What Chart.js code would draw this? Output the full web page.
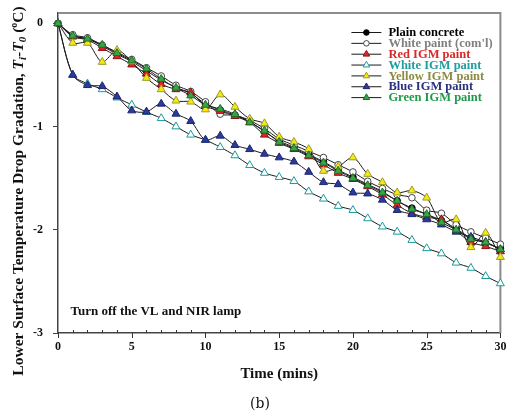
<!DOCTYPE html>
<html>
<head>
<meta charset="utf-8">
<script src="https://cdn.jsdelivr.net/npm/chart.js@4.4.1/dist/chart.umd.min.js"></script>
<style>
  html, body { margin: 0; padding: 0; background: #fff; }
</style>
</head>
<body>
<canvas id="chart" width="506" height="415"></canvas>
<script>
const minutes = [0, 1, 2, 3, 4, 5, 6, 7, 8, 9, 10, 11, 12, 13, 14, 15, 16, 17, 18, 19, 20, 21, 22, 23, 24, 25, 26, 27, 28, 29, 30];

const plainConcrete = [0, -0.12, -0.15, -0.22, -0.30, -0.37, -0.46, -0.55, -0.62, -0.68, -0.78, -0.84, -0.89, -0.95, -1.05, -1.14, -1.20, -1.27, -1.34, -1.42, -1.49, -1.56, -1.63, -1.72, -1.79, -1.85, -1.91, -1.99, -2.08, -2.13, -2.18];
const whitePaint = [0, -0.11, -0.14, -0.21, -0.28, -0.35, -0.43, -0.51, -0.60, -0.66, -0.76, -0.88, -0.89, -0.94, -1.02, -1.12, -1.18, -1.24, -1.30, -1.37, -1.44, -1.53, -1.60, -1.66, -1.69, -1.81, -1.84, -1.95, -2.02, -2.08, -2.14];
const redIGM = [0, -0.13, -0.16, -0.24, -0.32, -0.40, -0.49, -0.59, -0.64, -0.67, -0.80, -0.85, -0.90, -0.96, -1.08, -1.16, -1.22, -1.29, -1.37, -1.45, -1.51, -1.58, -1.66, -1.76, -1.84, -1.88, -1.90, -2.01, -2.12, -2.16, -2.21];
const whiteIGM = [0, -0.50, -0.585, -0.64, -0.72, -0.79, -0.86, -0.92, -1.00, -1.08, -1.13, -1.20, -1.28, -1.375, -1.45, -1.49, -1.53, -1.63, -1.70, -1.77, -1.81, -1.89, -1.97, -2.02, -2.10, -2.18, -2.23, -2.32, -2.37, -2.45, -2.52];
const yellowIGM = [0, -0.19, -0.19, -0.375, -0.26, -0.37, -0.53, -0.64, -0.75, -0.76, -0.835, -0.69, -0.81, -0.925, -0.97, -1.10, -1.15, -1.22, -1.43, -1.39, -1.30, -1.46, -1.54, -1.64, -1.62, -1.69, -1.93, -1.90, -2.17, -2.03, -2.265];
const blueIGM = [0, -0.50, -0.60, -0.61, -0.71, -0.845, -0.857, -0.78, -0.877, -0.948, -1.13, -1.09, -1.18, -1.22, -1.265, -1.30, -1.34, -1.44, -1.54, -1.56, -1.64, -1.65, -1.71, -1.81, -1.85, -1.90, -1.95, -2.02, -2.07, -2.12, -2.19];
const greenIGM = [0, -0.12, -0.15, -0.21, -0.29, -0.36, -0.44, -0.54, -0.625, -0.70, -0.79, -0.83, -0.88, -0.96, -1.04, -1.15, -1.21, -1.28, -1.35, -1.43, -1.50, -1.57, -1.64, -1.72, -1.80, -1.85, -1.93, -2.00, -2.09, -2.12, -2.19];

const xTicks = minutes;
const xLabelEvery = 5;
const yTicks = [-3, -2, -1, 0];

const SERIF = "'Liberation Serif', 'Times New Roman', serif";

const series = [
    { label: 'Plain concrete',      data: plainConcrete, shape: 'circle',   fill: '#000000', edge: '#000000', text: '#000000' },
    { label: "White paint (com'l)", data: whitePaint,    shape: 'circle',   fill: '#ffffff', edge: '#444444', text: '#808080' },
    { label: 'Red IGM paint',       data: redIGM,        shape: 'triangle', fill: '#e3222a', edge: '#8a1414', text: '#d82a2a' },
    { label: 'White IGM paint',     data: whiteIGM,      shape: 'triangle', fill: '#ffffff', edge: '#1a9a9a', text: '#1f9e9e' },
    { label: 'Yellow IGM paint',    data: yellowIGM,     shape: 'triangle', fill: '#f4ea12', edge: '#9a9a30', text: '#8c8c44' },
    { label: 'Blue IGM paint',      data: blueIGM,       shape: 'triangle', fill: '#2b3a9c', edge: '#1c2670', text: '#2a2f80' },
    { label: 'Green IGM paint',     data: greenIGM,      shape: 'triangle', fill: '#35a845', edge: '#1f6e2a', text: '#1e9a4a' }
];

// frame on top and right; minor ticks point in, major ticks point out
const frame = {
    id: 'frame',
    beforeDatasetsDraw(chart) {
        const { ctx, chartArea: a, scales: { x } } = chart;
        ctx.save();
        ctx.strokeStyle = '#8c8c8c';
        ctx.lineWidth = 2;
        ctx.beginPath();
        ctx.moveTo(a.left, a.top);
        ctx.lineTo(a.right, a.top);
        ctx.lineTo(a.right, a.bottom);
        ctx.stroke();

        ctx.strokeStyle = '#333';
        ctx.lineWidth = 1;
        xTicks.forEach(v => {
            const px = Math.round(x.getPixelForValue(v)) + 0.5;
            const major = v % xLabelEvery === 0;
            ctx.beginPath();
            ctx.moveTo(px, a.bottom);
            ctx.lineTo(px, major ? a.bottom + 5 : a.bottom - 3);
            ctx.stroke();
        });
        ctx.restore();
    }
};

// legend, y-axis title, note and panel label
const texts = {
    id: 'texts',
    afterDraw(chart) {
        const { ctx, chartArea: a, scales: { x, y } } = chart;
        ctx.save();

        // legend
        const rowTop = a.top + 19.5;
        const rowStep = 10.85;
        chart.data.datasets.forEach((ds, i) => {
            const s = series[i];
            const ry = rowTop + i * rowStep;
            const lx = a.right - 149;
            ctx.strokeStyle = '#1a1a1a';
            ctx.lineWidth = 1;
            ctx.beginPath();
            ctx.moveTo(lx, ry);
            ctx.lineTo(lx + 30, ry);
            ctx.stroke();
            ctx.fillStyle = s.fill;
            ctx.strokeStyle = s.edge;
            Chart.helpers.drawPoint(ctx, { pointStyle: s.shape, radius: s.shape === 'circle' ? 2.8 : 3.8, borderWidth: 1 }, lx + 15, ry);
            ctx.fillStyle = s.text;
            ctx.font = 'bold 12.5px ' + SERIF;
            ctx.textAlign = 'left';
            ctx.textBaseline = 'middle';
            ctx.fillText(ds.label, lx + 37, ry + 0.5);
        });

        // note
        ctx.fillStyle = '#111';
        ctx.font = 'bold 13px ' + SERIF;
        ctx.textAlign = 'left';
        ctx.textBaseline = 'alphabetic';
        ctx.fillText('Turn off the VL and NIR lamp', x.getPixelForValue(0.85), y.getPixelForValue(-2.83));

        // panel label
        ctx.font = "14px 'DejaVu Serif', serif";
        ctx.textAlign = 'center';
        ctx.textBaseline = 'middle';
        ctx.fillText('(b)', 260, 404);

        // y-axis title with subscripts
        const parts = [
            { t: 'Lower Surface Temperature Drop Gradation, ', f: 'bold 15.5px ' },
            { t: 'T', f: 'italic bold 15.5px ' },
            { t: 'i', f: 'italic bold 11px ', dy: 3 },
            { t: '-', f: 'bold 15.5px ' },
            { t: 'T', f: 'italic bold 15.5px ' },
            { t: '0', f: 'italic bold 11px ', dy: 3 },
            { t: ' (', f: 'bold 15.5px ' },
            { t: 'o', f: 'bold 10px ', dy: -6 },
            { t: 'C)', f: 'bold 15.5px ' }
        ];
        let total = 0;
        parts.forEach(p => { ctx.font = p.f + SERIF; p.w = ctx.measureText(p.t).width; total += p.w; });
        ctx.translate(18, 191);
        ctx.rotate(-Math.PI / 2);
        ctx.textAlign = 'left';
        ctx.textBaseline = 'alphabetic';
        ctx.fillStyle = '#111';
        let px = -total / 2;
        parts.forEach(p => {
            ctx.font = p.f + SERIF;
            ctx.fillText(p.t, px, 5 + (p.dy || 0));
            px += p.w;
        });
        ctx.restore();
    }
};

new Chart(document.getElementById('chart'), {
    type: 'line',
    data: {
        datasets: series.map((s, i) => ({
            label: s.label,
            data: s.data.map((v, k) => ({ x: minutes[k], y: v })),
            borderColor: '#1a1a1a',
            borderWidth: 1,
            tension: 0.3,
            pointStyle: s.shape,
            pointRadius: s.shape === 'circle' ? 3.3 : 4.6,
            pointBackgroundColor: s.fill,
            pointBorderColor: s.edge,
            pointBorderWidth: 1,
            clip: false,
            order: series.length - i
        }))
    },
    options: {
        responsive: false,
        animation: false,
        devicePixelRatio: 1,
        layout: { padding: { left: 0, right: 4, top: 13, bottom: 30 } },
        plugins: {
            legend: { display: false },
            tooltip: { enabled: false }
        },
        scales: {
            x: {
                type: 'linear',
                min: 0,
                max: 30,
                afterBuildTicks: scale => { scale.ticks = xTicks.map(v => ({ value: v })); },
                afterFit: scale => { scale.height = 52; scale.paddingLeft = 0; scale.paddingRight = 0; },
                grid: { display: true, drawOnChartArea: false, drawTicks: false },
                border: { display: true, color: '#444', width: 1.5 },
                ticks: {
                    autoSkip: false,
                    maxRotation: 0,
                    padding: 7,
                    color: '#111',
                    font: { family: SERIF, size: 12, weight: 'bold' },
                    callback: v => (v % xLabelEvery === 0 ? String(v) : '')
                },
                title: {
                    display: true,
                    text: 'Time (mins)',
                    color: '#111',
                    font: { family: SERIF, size: 15, weight: 'bold' },
                    padding: { top: 4, bottom: 2 }
                }
            },
            y: {
                min: -3,
                max: 0.1,
                afterBuildTicks: scale => { scale.ticks = yTicks.map(v => ({ value: v })); },
                afterFit: scale => { scale.width = 58; scale.paddingTop = 0; scale.paddingBottom = 0; },
                grid: { drawOnChartArea: false, drawTicks: true, tickLength: 5, color: '#444' },
                border: { display: true, color: '#444', width: 1.5 },
                ticks: {
                    padding: 10,
                    color: '#111',
                    font: { family: SERIF, size: 12, weight: 'bold' },
                    callback: v => String(v)
                }
            }
        }
    },
    plugins: [frame, texts]
});
</script>
</body>
</html>
